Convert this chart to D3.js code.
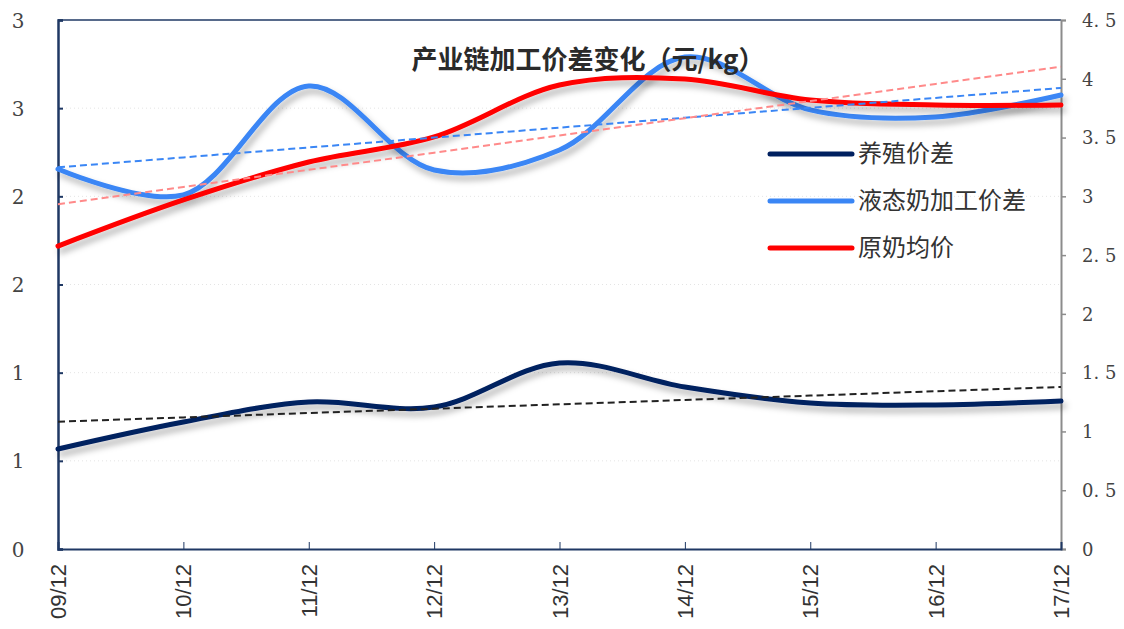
<!DOCTYPE html>
<html>
<head>
    <meta charset="utf-8">
    <script src="https://d3js.org/d3.v7.min.js"></script>
    <style>
        body { margin: 0; background: #fff; }
    </style>
</head>
<body>
    <script>
        // data
        var years = ["09/12", "10/12", "11/12", "12/12", "13/12", "14/12", "15/12", "16/12", "17/12"];
        var breedSpread = [0.567, 0.720, 0.834, 0.805, 1.055, 0.919, 0.828, 0.817, 0.839];   // 养殖价差, left axis
        var liquidSpread = [2.155, 2.008, 2.626, 2.149, 2.263, 2.790, 2.490, 2.450, 2.575];  // 液态奶加工价差, left axis
        var rawPrice = [2.577, 2.969, 3.292, 3.505, 3.947, 3.998, 3.819, 3.777, 3.777];      // 原奶均价, right axis
        var leftTicks = [0, 0.5, 1, 1.5, 2, 2.5, 3];
        var rightTicks = [0, 0.5, 1, 1.5, 2, 2.5, 3, 3.5, 4, 4.5];
        var seriesNames = ["养殖价差", "液态奶加工价差", "原奶均价"];

        var width = 1124, height = 629;
        var plot = {l: 58, r: 1061, t: 20, b: 549};

        var svg = d3.select("body").append("svg")
            .attr("width", width)
            .attr("height", height);

        var defs = svg.append("defs");
        var f = defs.append("filter").attr("id", "shadow")
            .attr("x", "-10%").attr("y", "-30%").attr("width", "120%").attr("height", "160%");
        f.append("feDropShadow")
            .attr("dx", 3).attr("dy", 5).attr("stdDeviation", 3)
            .attr("flood-color", "#000").attr("flood-opacity", 0.3);

        var x = d3.scalePoint().domain(years).range([plot.l, plot.r]);
        var yL = d3.scaleLinear().domain([0, 3]).range([plot.b, plot.t]);
        var yR = d3.scaleLinear().domain([0, 4.5]).range([plot.b, plot.t]);

        // faint grid
        svg.append("g").selectAll("line")
            .data(leftTicks.slice(1, -1))
            .enter().append("line")
            .attr("x1", plot.l).attr("x2", plot.r)
            .attr("y1", d => yL(d)).attr("y2", d => yL(d))
            .style("stroke", "#e4e4e4")
            .style("stroke-dasharray", "1,3");

        // top border
        svg.append("line")
            .attr("x1", plot.l).attr("x2", plot.r).attr("y1", plot.t).attr("y2", plot.t)
            .style("stroke", "#1f3864").style("stroke-width", 1.5);

        // left axis
        var gl = svg.append("g").attr("transform", "translate(" + plot.l + ",0)")
            .call(d3.axisRight(yL).tickValues(leftTicks).tickSize(5).tickFormat(d => Math.round(d)));
        gl.select(".domain").style("stroke", "#1f3864").style("stroke-width", 2.5);
        gl.selectAll(".tick line").style("stroke", "#1f3864").style("stroke-width", 2);
        gl.selectAll(".tick text")
            .attr("x", -40).attr("text-anchor", "middle").attr("dy", "0.35em")
            .style("font-family", "'DejaVu Serif', serif").style("font-size", "20px").style("fill", "#444");

        // right axis
        var gr = svg.append("g").attr("transform", "translate(" + plot.r + ",0)")
            .call(d3.axisRight(yR).tickValues(rightTicks).tickSize(5)
                .tickFormat(d => d3.format("")(d).replace(".", ". ")));
        gr.select(".domain").style("stroke", "#8c8c8c").style("stroke-width", 2);
        gr.selectAll(".tick line").style("stroke", "#8c8c8c").style("stroke-width", 1.5);
        gr.selectAll(".tick text")
            .attr("x", 21).attr("dy", "0.35em").style("white-space", "pre")
            .style("font-family", "'DejaVu Serif', serif").style("font-size", "18px").style("fill", "#444");

        // bottom axis
        var gb = svg.append("g").attr("transform", "translate(0," + plot.b + ")")
            .call(d3.axisTop(x).tickSize(7).tickFormat(""));
        gb.select(".domain").style("stroke", "#1f3864").style("stroke-width", 2);
        gb.selectAll(".tick line").style("stroke", "#1f3864").style("stroke-width", 1);
        svg.append("g").selectAll("text")
            .data(years)
            .enter().append("text")
            .attr("transform", d => "translate(" + (x(d) + 8) + "," + (plot.b + 15) + ") rotate(-90)")
            .attr("text-anchor", "end")
            .style("font-family", "'Liberation Sans', Arial, sans-serif")
            .style("font-size", "22px").style("fill", "#333")
            .text(d => d);

        // linear trend from least squares
        function trend(vals) {
            var n = vals.length, mx = (n - 1) / 2, my = d3.mean(vals);
            var sxy = 0, sxx = 0;
            vals.forEach((v, i) => { sxy += (i - mx) * (v - my); sxx += (i - mx) * (i - mx); });
            var b = sxy / sxx;
            return vals.map((v, i) => my + b * (i - mx));
        }

        var series = [
            {name: seriesNames[0], vals: breedSpread, y: yL, color: "#002060", tcolor: "#222"},
            {name: seriesNames[1], vals: liquidSpread, y: yL, color: "#3a86f5", tcolor: "#3a86f5"},
            {name: seriesNames[2], vals: rawPrice, y: yR, color: "#ff0000", tcolor: "#ff8a8a"}
        ];

        var smooth = d3.line().curve(d3.curveCatmullRom.alpha(0.5));
        var straight = d3.line();

        series.forEach(s => {
            svg.append("path")
                .attr("d", smooth(s.vals.map((v, i) => [x(years[i]), s.y(v)])))
                .attr("filter", "url(#shadow)")
                .style("fill", "none").style("stroke", s.color)
                .style("stroke-width", 5).style("stroke-linecap", "round");
        });

        series.forEach(s => {
            var t = trend(s.vals);
            svg.append("path")
                .attr("d", straight(t.map((v, i) => [x(years[i]), s.y(v)])))
                .style("fill", "none").style("stroke", s.tcolor)
                .style("stroke-width", 2).style("stroke-dasharray", "7,4");
        });

        // title
        svg.append("text")
            .attr("x", 588).attr("y", 69)
            .attr("text-anchor", "middle")
            .style("font-family", "'Noto Sans CJK SC', sans-serif")
            .style("font-weight", "bold").style("font-size", "26px").style("fill", "#2a2a2a")
            .text("产业链加工价差变化（元/kg）");

        // legend
        var lg = svg.append("g").selectAll("g")
            .data(series)
            .enter().append("g")
            .attr("transform", (d, i) => "translate(770," + (154 + i * 47) + ")");
        lg.append("line")
            .attr("x1", 0).attr("x2", 82)
            .style("stroke", d => d.color).style("stroke-width", 5).style("stroke-linecap", "round");
        lg.append("text")
            .attr("x", 88).attr("dy", "0.35em")
            .style("font-family", "'Noto Sans CJK SC', sans-serif")
            .style("font-size", "24px").style("fill", "#333")
            .text(d => d.name);
    </script>
</body>
</html>
